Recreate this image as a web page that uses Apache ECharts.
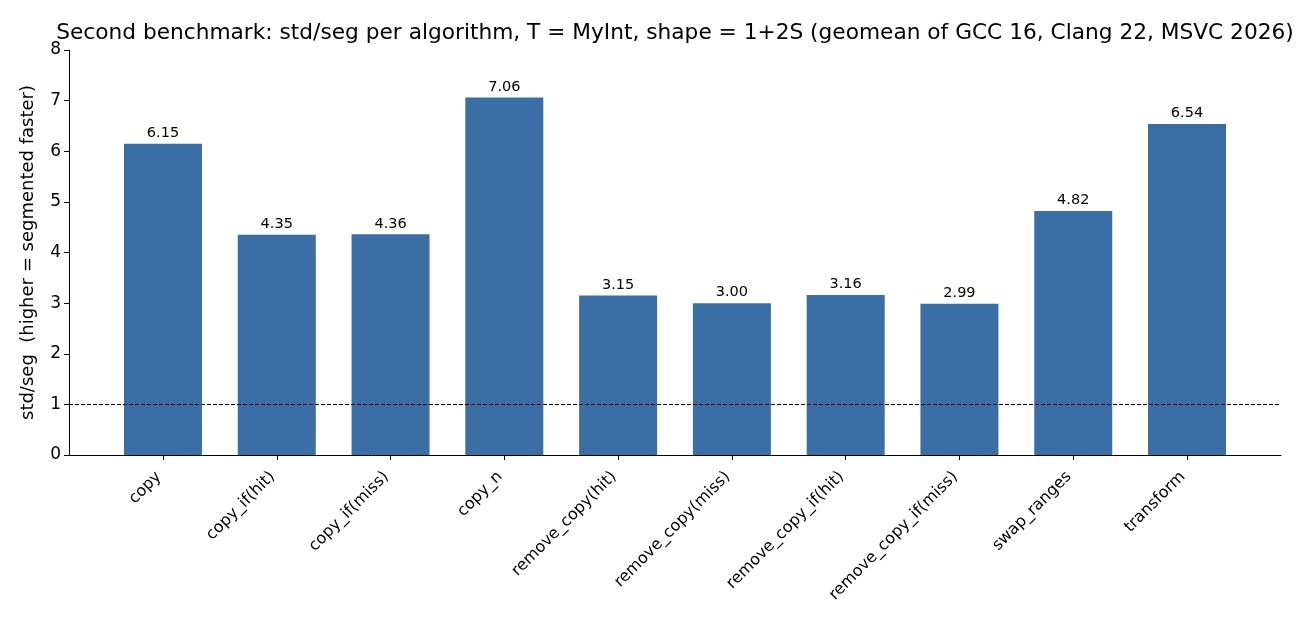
<!DOCTYPE html>
<html>
<head>
<meta charset="utf-8">
<script src="https://cdn.jsdelivr.net/npm/echarts@6/dist/echarts.min.js"></script>
<style>html,body{margin:0;padding:0;background:#fff}#c{width:1300px;height:624px}</style>
</head>
<body>
<div id="c"></div>
<script>
const categories = ["copy", "copy_if(hit)", "copy_if(miss)", "copy_n", "remove_copy(hit)", "remove_copy(miss)", "remove_copy_if(hit)", "remove_copy_if(miss)", "swap_ranges", "transform"];
const values = [6.15, 4.35, 4.36, 7.06, 3.15, 3.00, 3.16, 2.99, 4.82, 6.54];
const yTicks = [0, 1, 2, 3, 4, 5, 6, 7, 8];
const baseline = 1;

const FONT = "DejaVu Sans";
const chart = echarts.init(document.getElementById('c'), null, {renderer: 'canvas'});
const idx = categories.map((_, i) => i);
chart.setOption({
  animation: false,
  backgroundColor: '#ffffff',
  title: {
    text: 'Second benchmark: std/seg per algorithm, T = MyInt, shape = 1+2S (geomean of GCC 16, Clang 22, MSVC 2026)',
    left: 670, top: 17, textAlign: 'center',
    textStyle: {fontFamily: FONT, fontSize: 21.7, fontWeight: 'normal', color: '#000'}
  },
  grid: {left: 69, right: 19, top: 50, bottom: 169, containLabel: false},
  xAxis: {
    type: 'value', min: -0.826, max: categories.length - 1 + 0.826,
    splitLine: {show: false},
    axisLine: {show: true, onZero: false, lineStyle: {color: '#000', width: 1}},
    axisTick: {show: true, customValues: idx, length: 5, lineStyle: {color: '#000'}},
    axisLabel: {
      customValues: idx, rotate: 45, margin: 15, padding: [0, 6, 0, 0],
      fontFamily: FONT, fontSize: 16, color: '#000',
      formatter: v => categories[Math.round(v)] ?? ''
    }
  },
  yAxis: {
    type: 'value', min: yTicks[0], max: yTicks[yTicks.length - 1], interval: 1,
    name: 'std/seg  (higher = segmented faster)', nameLocation: 'middle', nameGap: 32,
    nameTextStyle: {fontFamily: FONT, fontSize: 18, color: '#000'},
    splitLine: {show: false},
    axisLine: {show: true, onZero: false, lineStyle: {color: '#000', width: 1}},
    axisTick: {show: true, length: 5, lineStyle: {color: '#000'}},
    axisLabel: {fontFamily: FONT, fontSize: 17, color: '#000', margin: 8}
  },
  series: [{
    type: 'bar',
    data: values.map((v, i) => [i, v]),
    barWidth: 78,
    itemStyle: {color: '#3b6ea5'},
    label: {
      show: true, position: 'top', distance: 3,
      fontFamily: FONT, fontSize: 14.5, color: '#000',
      formatter: p => p.value[1].toFixed(2)
    },
    markLine: {
      silent: true, symbol: 'none',
      label: {show: false},
      lineStyle: {color: '#000', type: [4, 2], width: 1},
      data: [{yAxis: baseline}]
    }
  }]
});
</script>
</body>
</html>
